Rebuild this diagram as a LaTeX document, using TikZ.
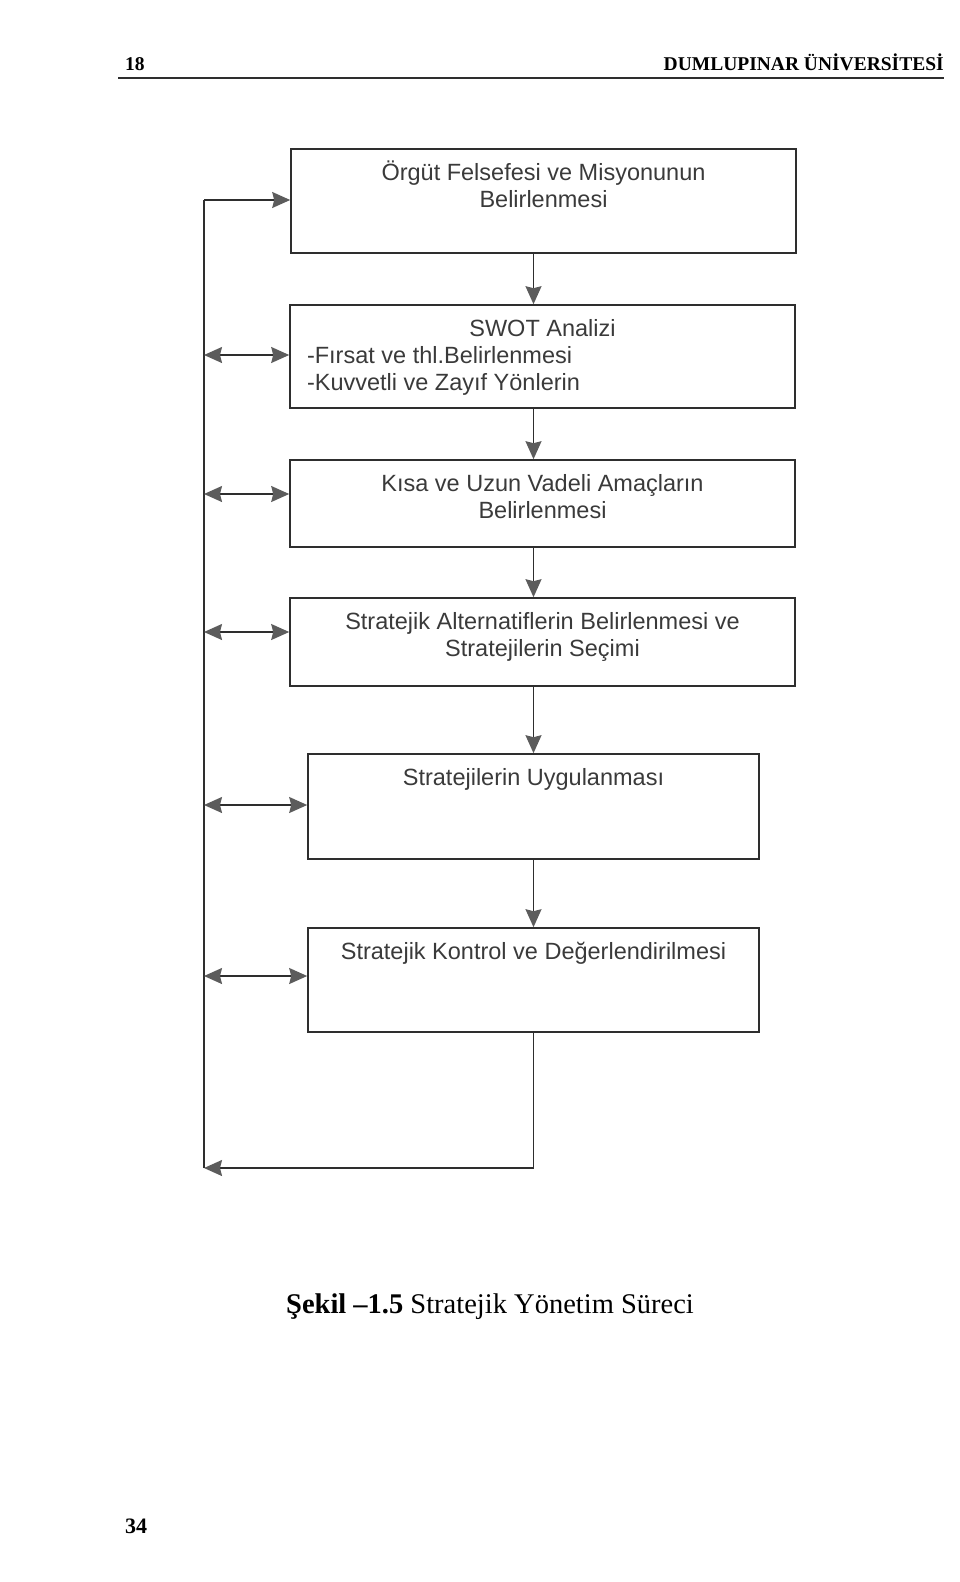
\documentclass[tikz,border=0pt]{standalone}
\usepackage{fontspec}
\setmainfont{Liberation Serif}
\newfontfamily\kutufont{Liberation Sans}
\usetikzlibrary{arrows.meta}
\definecolor{cizgi}{HTML}{2E2E2E}
\definecolor{ucrenk}{HTML}{5C5C5C}
\definecolor{yazi}{HTML}{3A3A3A}

\begin{document}
\begin{tikzpicture}[x=1pt, y=-1pt,
    kutu/.style={draw=cizgi, line width=1.6pt, inner sep=0pt, font=\kutufont\fontsize{23.5}{27}\selectfont, text=yazi},
    ok/.style={draw=cizgi, line width=1.5pt},
    >={Stealth[length=18pt, width=16pt, inset=2pt, color=ucrenk]}]
    \useasboundingbox (0,0) rectangle (960,1582);

    \node[anchor=base west, inner sep=0pt, font=\bfseries\fontsize{19.5}{22}\selectfont] (sayfa) at (125,70) {18};
    \node[anchor=base east, inner sep=0pt, font=\bfseries\fontsize{19.5}{22}\selectfont] (baslik) at (944,70) {DUMLUPINAR ÜNİVERSİTESİ};
    \draw[cizgi, line width=1.5pt] (118,78) -- (944,78);

    \node[kutu] (k1) at (543.5,201) {\parbox[c][104pt][t]{505pt}{\centering\rule{0pt}{31pt}Örgüt Felsefesi ve Misyonunun\\Belirlenmesi}};
    \node[kutu] (k2) at (542.5,356.5) {\parbox[c][103pt][t]{505pt}{{\centering\rule{0pt}{31pt}SWOT Analizi\par}
        \hspace*{17pt}-Fırsat ve thl.Belirlenmesi\\
        \hspace*{17pt}-Kuvvetli ve Zayıf Yönlerin}};
    \node[kutu] (k3) at (542.5,503.5) {\parbox[c][87pt][t]{505pt}{\centering\rule{0pt}{31pt}Kısa ve Uzun Vadeli Amaçların\\Belirlenmesi}};
    \node[kutu] (k4) at (542.5,642) {\parbox[c][88pt][t]{505pt}{\centering\rule{0pt}{31pt}Stratejik Alternatiflerin Belirlenmesi ve\\Stratejilerin Seçimi}};
    \node[kutu] (k5) at (533.5,806.5) {\parbox[c][105pt][t]{451pt}{\centering\rule{0pt}{31pt}Stratejilerin Uygulanması}};
    \node[kutu] (k6) at (533.5,980) {\parbox[c][104pt][t]{451pt}{\centering\rule{0pt}{31pt}Stratejik Kontrol ve Değerlendirilmesi}};

    \coordinate (s1) at (204,200);
    \coordinate (s2) at (204,355);
    \coordinate (s3) at (204,494);
    \coordinate (s4) at (204,632);
    \coordinate (s5) at (204,805);
    \coordinate (s6) at (204,976);
    \coordinate (alt) at (204,1168);
    \coordinate (donus) at (533.5,1168);

    \foreach \a/\b in {k1/k2, k2/k3, k3/k4, k4/k5, k5/k6}
        \draw[ok, ->] (\a.south -| k5.north) -- (\b.north -| k5.north);
    \draw[ok, ->] (k6.south) -- (donus) -- (alt);
    \draw[ok] (alt) -- (s1);
    \draw[ok, ->] (s1) -- (s1 -| k1.west);
    \foreach \i in {2,...,6}
        \draw[ok, <->] (s\i) -- (s\i -| k\i.west);

    \node[anchor=base, inner sep=0pt, font=\fontsize{28.5}{32}\selectfont] (sekil) at (490,1313) {\textbf{Şekil –1.5} Stratejik Yönetim Süreci};
    \node[anchor=base west, inner sep=0pt, font=\bfseries\fontsize{22}{26}\selectfont] (no) at (125,1533) {34};
\end{tikzpicture}
\end{document}
